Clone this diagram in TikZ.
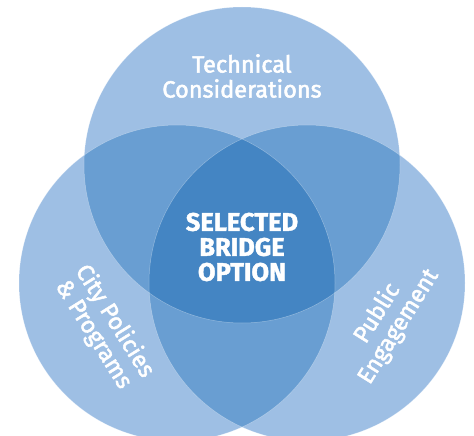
\documentclass[tikz,border=0pt]{standalone}
\usepackage{fontspec}
\setmainfont{Fira Sans}
\newfontfamily\fmed{Fira Sans}[FakeBold=2.2]
\newfontfamily\fbig{Fira Sans Bold}[FakeBold=1.5]
\definecolor{c1}{HTML}{9EBFE4}
\definecolor{c2}{HTML}{699ED2}
\definecolor{c3}{HTML}{4485C3}
\begin{document}
\begin{tikzpicture}[x=1pt,y=-1pt,
  lbl/.style={text=white,align=center,font=\fmed\fontsize{23.5}{25}\selectfont},
  ctr/.style={text=white,align=center,font=\fbig\fontsize{25.5}{25}\selectfont},
  edge/.style={draw=white,draw opacity=0.35,line width=0.5pt}]
\useasboundingbox (0,0) rectangle (474,436);
\def\R{158}
\coordinate (T) at (242,165);
\coordinate (L) at (177,283);
\coordinate (Rc) at (307,283);
\begin{scope}
\clip (0,0) rectangle (474,436);
\fill[c1] (T) circle (\R);
\fill[c1] (L) circle (\R);
\fill[c1] (Rc) circle (\R);
\begin{scope}\clip (T) circle (\R); \fill[c2] (L) circle (\R); \fill[c2] (Rc) circle (\R);\end{scope}
\begin{scope}\clip (L) circle (\R); \fill[c2] (Rc) circle (\R);\end{scope}
\begin{scope}\clip (T) circle (\R); \clip (L) circle (\R); \fill[c3] (Rc) circle (\R);\end{scope}
\draw[edge] (T) circle (\R);
\draw[edge] (L) circle (\R);
\draw[edge] (Rc) circle (\R);
\end{scope}
\node[lbl] (tech) at (242,76) {Technical\\Considerations};
\node[ctr] (sel) at (242,247) {SELECTED\\BRIDGE\\OPTION};
\node[lbl,rotate=-58] (city) at (104,328) {City Policies\\\& Programs};
\node[lbl,rotate=58] (pub) at (388,320) {Public\\Engagement};
\end{tikzpicture}
\end{document}
